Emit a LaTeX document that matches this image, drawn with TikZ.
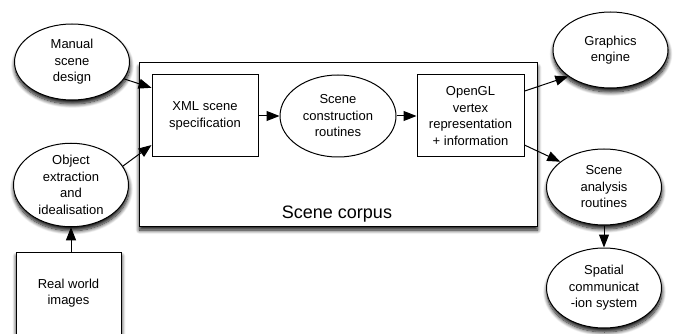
\documentclass[tikz,border=0pt]{standalone}
\usepackage{fontspec}
\setmainfont{Liberation Sans}
\usetikzlibrary{shapes.geometric,arrows.meta,shadows.blur,calc}
\begin{document}
\begin{tikzpicture}[x=1pt,y=-1pt,
  every node/.style={font=\fontsize{13}{16.5}\selectfont, align=center, inner sep=0pt},
  ell/.style={ellipse, draw, line width=1pt, fill=white, minimum width=115pt, minimum height=76pt},
  box/.style={rectangle, draw, line width=1pt, fill=white},
  shad/.style={blur shadow={shadow xshift=0.5pt, shadow yshift=-4pt, shadow blur steps=10, shadow blur radius=4pt, shadow opacity=95}},
  arr/.style={-{Triangle[length=13pt,width=10pt]}, line width=1pt}]
\clip (0,0) rectangle (675,334);
\node[box,shad,minimum width=398pt,minimum height=163pt] (corpus) at (338,144.5) {};
\node[font=\fontsize{18}{20}\selectfont] (corpuslabel) at (337,214) {Scene corpus};
\node[box,minimum width=106pt,minimum height=82pt] (xml) at (205,116) {XML scene\\specification};
\node[ell,minimum width=116pt,minimum height=82pt] (construct) at (338,116) {Scene\\construction\\routines};
\node[box,minimum width=107pt,minimum height=82pt] (opengl) at (470.5,116) {OpenGL\\vertex\\representation\\+ information};
\node[ell,shad] (manual) at (72,62) {Manual\\scene\\design};
\node[ell,shad,minimum height=82pt] (object) at (71,185) {Object\\extraction\\and\\idealisation};
\node[box,shad,minimum width=105pt,minimum height=90pt] (real) at (68.5,297) {};
\node (reallabel) at (68.5,293) {Real world\\images};
\node[ell,shad] (graphics) at (610.5,50) {Graphics\\engine};
\node[ell,shad] (analysis) at (604,187) {Scene\\analysis\\routines};
\node[ell,shad,minimum height=80pt] (spatial) at (604,288) {Spatial\\communicat\\-ion system};
\draw[arr] (manual) -- ($(xml.north west)!0.16!(xml.south west)$);
\draw[arr] (object.20) -- ($(xml.north west)!0.85!(xml.south west)$);
\draw[arr] (xml) -- (construct);
\draw[arr] (construct) -- (opengl);
\draw[arr] ($(opengl.north east)!0.2!(opengl.south east)$) -- (graphics.212);
\draw[arr] ($(opengl.north east)!0.85!(opengl.south east)$) -- (analysis.150);
\draw[arr] (analysis) -- (spatial);
\draw[arr] (object.south |- real.north) -- (object.south);
\end{tikzpicture}
\end{document}
